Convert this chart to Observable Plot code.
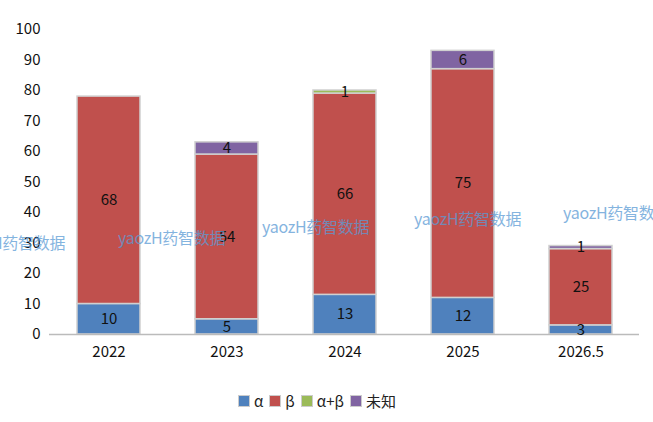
<!DOCTYPE html>
<html><head><meta charset="utf-8">
<script src="https://cdn.jsdelivr.net/npm/d3@7"></script>
<script src="https://cdn.jsdelivr.net/npm/@observablehq/plot@0.6"></script>
<style>
body{margin:0;background:#fff;font-family:"Noto Sans CJK SC","Noto Sans",sans-serif;}
#wrap{position:relative;width:653px;height:422px;overflow:hidden;}
.wm{position:absolute;color:#5b9bd5;opacity:0.75;font-size:16px;white-space:nowrap;letter-spacing:-0.3px;}
#legend{position:absolute;top:390px;left:0;width:634px;display:flex;justify-content:center;gap:6px;font-size:15px;color:#222;}
#legend span.it{display:flex;align-items:center;gap:4px;}
#legend i{display:inline-block;width:10px;height:10px;border:1px solid #ccc;}
</style></head>
<body><div id="wrap"></div>
<script>
const years = ["2022","2023","2024","2025","2026.5"];
const series = ["α","β","α+β","未知"];
const alpha = [10,5,13,12,3];
const beta = [68,54,66,75,25];
const alphaBeta = [0,0,1,0,0];
const unknown = [0,4,0,6,1];
const colors = ["#4F81BD","#C0504D","#9BBB59","#8064A2"];
const yTicks = [0,10,20,30,40,50,60,70,80,90,100];
const watermark = "yaozH药智数据";

const cols = [alpha,beta,alphaBeta,unknown];
const data = [];
years.forEach((y,i)=>series.forEach((s,j)=>data.push({year:y,series:s,value:cols[j][i]})));
const nz = data.filter(d=>d.value>0);

const chart = Plot.plot({
  width:653, height:372,
  marginTop:29, marginBottom:38, marginLeft:49, marginRight:14,
  style:{fontFamily:'"Noto Sans CJK SC","Noto Sans",sans-serif',fontSize:"15px",color:"#111"},
  x:{domain:years,paddingInner:0.47,paddingOuter:0.235,label:null,tickSize:0,tickPadding:12},
  y:{domain:[0,100],ticks:yTicks,label:null,tickSize:0,tickPadding:9},
  color:{domain:series,range:colors},
  marks:[
    Plot.barY(nz,Plot.stackY({x:"year",y:"value",fill:"series",order:series,stroke:"#d0d0d0",strokeWidth:1.5})),
    Plot.ruleY([0],{stroke:"#bbb",strokeWidth:1.5}),
    Plot.text(nz,Plot.stackY({x:"year",y:"value",z:"series",order:series,text:d=>String(d.value),fill:"#111",fontSize:15}))
  ]
});
const wrap=document.getElementById("wrap");
wrap.appendChild(chart);
// watermarks
[[-42,230],[118,225],[262,214],[414,206],[563,200]].forEach(([l,t])=>{
  const d=document.createElement("div");d.className="wm";d.textContent=watermark;d.style.left=l+"px";d.style.top=t+"px";wrap.appendChild(d);
});
const lg=document.createElement("div");lg.id="legend";
series.forEach((s,j)=>{const it=document.createElement("span");it.className="it";it.innerHTML=`<i style="background:${colors[j]}"></i>${s}`;lg.appendChild(it);});
wrap.appendChild(lg);
</script></body></html>
